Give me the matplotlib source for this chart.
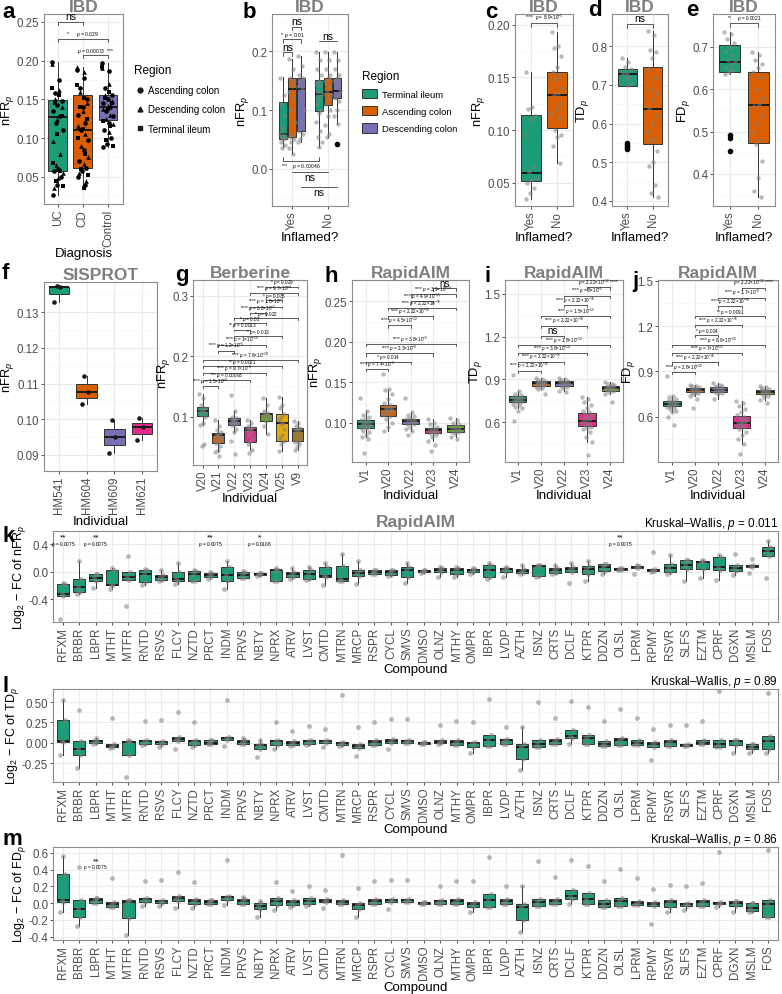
import numpy as np
import matplotlib
matplotlib.use('Agg')
import matplotlib.pyplot as plt
from matplotlib.lines import Line2D
from matplotlib.patches import Patch
from matplotlib.ticker import AutoMinorLocator

plt.rcParams['font.family'] = ['Liberation Sans', 'DejaVu Sans']
plt.rcParams['mathtext.fontset'] = 'custom'
plt.rcParams['mathtext.rm'] = 'Liberation Sans'
plt.rcParams['mathtext.it'] = 'Liberation Sans:italic'

# colours (Dark2)
GREEN, ORANGE, PURPLE, PINK, LIME, YELLOW, BROWN = ('#1B9E77', '#D95F02', '#7570B3', '#E7298A',
                                                   '#66A61E', '#E6AB02', '#A6761D')

# ---------------- panel a : IBD, nFRp by diagnosis ----------------
diag = ['UC', 'CD', 'Control']
# box stats: whislo, q1, med, q3, whishi
a_stats = [(0.027, 0.058, 0.127, 0.149, 0.198),
           (0.035, 0.061, 0.111, 0.155, 0.192),
           (0.089, 0.123, 0.140, 0.156, 0.197)]
regions_a = ['Ascending colon', 'Descending colon', 'Terminal ileum']
a_asc = [[0.198, 0.175, 0.158, 0.148, 0.143, 0.135, 0.128, 0.12, 0.11, 0.06, 0.058, 0.05, 0.04, 0.027],
         [0.188, 0.178, 0.165, 0.15, 0.14, 0.13, 0.12, 0.11, 0.098, 0.085, 0.07, 0.062, 0.058, 0.05, 0.04],
         [0.197, 0.186, 0.165, 0.156, 0.15, 0.145, 0.14, 0.135, 0.128, 0.12, 0.11, 0.1, 0.093, 0.089]]
a_desc = [[0.195, 0.162, 0.15, 0.14, 0.125, 0.096, 0.08, 0.065, 0.055, 0.048, 0.035],
          [0.192, 0.185, 0.16, 0.145, 0.135, 0.115, 0.105, 0.09, 0.075, 0.066, 0.055, 0.045],
          [0.19, 0.17, 0.155, 0.148, 0.142, 0.138, 0.13, 0.125, 0.118, 0.108]]
a_ti = [[0.165, 0.155, 0.145, 0.128, 0.105, 0.068, 0.057, 0.045, 0.038],
        [0.168, 0.152, 0.14, 0.125, 0.112, 0.1, 0.08, 0.06, 0.052, 0.035],
        [0.192, 0.16, 0.152, 0.145, 0.137, 0.122, 0.115, 0.098, 0.09]]

# ---------------- panel b : IBD, inflamed x region ----------------
inflamed = ['Yes', 'No']
regions_b = ['Terminal ileum', 'Ascending colon', 'Descending colon']
b_stats = [[(0.037, 0.051, 0.059, 0.114, 0.156), (0.025, 0.054, 0.136, 0.154, 0.186), (0.046, 0.064, 0.136, 0.154, 0.191)],
           [(0.037, 0.098, 0.127, 0.151, 0.198), (0.054, 0.108, 0.130, 0.154, 0.198), (0.076, 0.120, 0.132, 0.154, 0.198)]]
b_pts = [[[0.155, 0.125, 0.11, 0.09, 0.07, 0.06, 0.058, 0.055, 0.052, 0.05, 0.045, 0.04, 0.035],
          [0.186, 0.17, 0.155, 0.15, 0.14, 0.13, 0.12, 0.1, 0.08, 0.06, 0.055, 0.05, 0.045, 0.035, 0.025],
          [0.191, 0.175, 0.16, 0.155, 0.15, 0.14, 0.135, 0.12, 0.1, 0.08, 0.065, 0.06, 0.05, 0.046]],
         [[0.198, 0.185, 0.17, 0.16, 0.15, 0.145, 0.14, 0.13, 0.127, 0.12, 0.11, 0.1, 0.095, 0.08, 0.065, 0.055, 0.045, 0.037],
          [0.198, 0.185, 0.17, 0.16, 0.155, 0.15, 0.14, 0.13, 0.125, 0.12, 0.11, 0.1, 0.09, 0.075, 0.06, 0.054],
          [0.198, 0.185, 0.17, 0.16, 0.155, 0.15, 0.145, 0.14, 0.132, 0.128, 0.12, 0.115, 0.1, 0.09, 0.076]]]
b_outlier = 0.042  # No / Descending colon

# ---------------- panels c, d, e : IBD, inflamed yes/no ----------------
c_stats = [(0.035, 0.052, 0.0595, 0.114, 0.155), (0.069, 0.1015, 0.133, 0.155, 0.193)]
c_pts = [[0.155, 0.122, 0.12, 0.113, 0.11, 0.095, 0.065, 0.06, 0.055, 0.053, 0.05, 0.045, 0.04, 0.035],
         [0.193, 0.18, 0.178, 0.17, 0.16, 0.155, 0.152, 0.148, 0.14, 0.135, 0.133, 0.125, 0.12, 0.115,
          0.11, 0.1, 0.095, 0.093, 0.085, 0.069]]
d_stats = [(0.70, 0.697, 0.728, 0.741, 0.77), (0.41, 0.547, 0.637, 0.745, 0.839)]
d_pts = [[0.77, 0.76, 0.745, 0.74, 0.73, 0.728, 0.72, 0.715, 0.705, 0.7],
         [0.839, 0.83, 0.79, 0.785, 0.77, 0.74, 0.72, 0.69, 0.68, 0.66, 0.64, 0.62, 0.6, 0.58, 0.56,
          0.555, 0.53, 0.5, 0.49, 0.44, 0.42, 0.41]]
d_out = [[0.55, 0.545, 0.54, 0.535], []]
e_stats = [(0.636, 0.642, 0.665, 0.705, 0.736), (0.345, 0.472, 0.563, 0.642, 0.688)]
e_pts = [[0.736, 0.73, 0.72, 0.71, 0.7, 0.69, 0.68, 0.67, 0.665, 0.66, 0.65, 0.645, 0.64, 0.636],
         [0.688, 0.68, 0.67, 0.66, 0.65, 0.64, 0.63, 0.6, 0.58, 0.565, 0.56, 0.54, 0.52, 0.5, 0.48,
          0.47, 0.43, 0.39, 0.36, 0.345]]
e_out = [[0.492, 0.485, 0.455], []]

# ---------------- panel f : SISPROT ----------------
f_groups = ['HM541', 'HM604', 'HM609', 'HM621']
f_vals = [[0.1330, 0.1370, 0.1373], [0.1043, 0.1077, 0.1122],
          [0.0905, 0.0949, 0.0998], [0.0943, 0.0977, 0.1005]]

# ---------------- panel g : Berberine ----------------
g_groups = ['V20', 'V21', 'V22', 'V23', 'V24', 'V25', 'V9']
g_stats = [(0.0857, 0.1017, 0.109, 0.1165, 0.138), (0.042, 0.057, 0.069, 0.0735, 0.094),
           (0.075, 0.086, 0.093, 0.097, 0.11), (0.045, 0.0587, 0.078, 0.0823, 0.095),
           (0.072, 0.092, 0.104, 0.1067, 0.13), (0.043, 0.06, 0.089, 0.104, 0.133),
           (0.045, 0.06, 0.076, 0.081, 0.092)]
g_pts = [[0.138, 0.13, 0.12, 0.115, 0.112, 0.11, 0.108, 0.105, 0.1, 0.09, 0.0857, 0.055, 0.052],
         [0.094, 0.085, 0.078, 0.074, 0.072, 0.07, 0.068, 0.066, 0.063, 0.06, 0.057, 0.052, 0.045, 0.042, 0.035],
         [0.135, 0.11, 0.1, 0.098, 0.096, 0.094, 0.093, 0.092, 0.09, 0.088, 0.086, 0.08, 0.075, 0.06, 0.038],
         [0.095, 0.09, 0.085, 0.082, 0.08, 0.078, 0.075, 0.07, 0.065, 0.06, 0.055, 0.045, 0.04],
         [0.13, 0.12, 0.11, 0.106, 0.105, 0.104, 0.102, 0.1, 0.097, 0.092, 0.085, 0.072],
         [0.133, 0.12, 0.115, 0.105, 0.1, 0.095, 0.09, 0.088, 0.08, 0.07, 0.065, 0.06, 0.055, 0.043],
         [0.092, 0.09, 0.085, 0.082, 0.08, 0.078, 0.076, 0.07, 0.065, 0.06, 0.058, 0.055, 0.05, 0.045]]
g_brackets = [(5, 7, 0.315, '* $p$ = 0.029'), (4, 7, 0.304, '**** $p$ = 9.7×10$^{-4}$'),
              (5, 6, 0.293, '* $p$ = 0.035'), (4, 6, 0.282, '**** $p$ = 1.8×10$^{-7}$'),
              (4, 5, 0.271, '**** $p$ = 6.8×10$^{-7}$'), (3, 7, 0.263, '* $p$ = 0.022'),
              (3, 5, 0.255, '* $p$ = 0.02'), (3, 4, 0.244, '** $p$ = 0.0013'),
              (3, 6, 0.233, '* $p$ = 0.013'), (2, 5, 0.219, '**** $p$ = 1×10$^{-10}$'),
              (2, 3, 0.209, '**** $p$ = 1.2×10$^{-5}$'), (1, 7, 0.193, '**** $p$ = 7.8×10$^{-10}$'),
              (1, 6, 0.183, '** $p$ = 0.0021'), (1, 5, 0.172, '**** $p$ = 9.7×10$^{-5}$'),
              (1, 4, 0.161, '*** $p$ = 0.00093'), (1, 2, 0.150, '**** $p$ = 1.5×10$^{-4}$')]

# ---------------- panels h, i, j : RapidAIM individuals ----------------
r_groups = ['V1', 'V20', 'V22', 'V23', 'V24']
h_stats = [(0.0826, 0.0936, 0.099, 0.103, 0.114), (0.09, 0.108, 0.1165, 0.1223, 0.14),
           (0.09, 0.098, 0.102, 0.105, 0.113), (0.078, 0.0876, 0.0906, 0.094, 0.105),
           (0.083, 0.0884, 0.0926, 0.0967, 0.106)]
h_pts = [[0.131, 0.115, 0.11, 0.107, 0.105, 0.103, 0.102, 0.1, 0.099, 0.098, 0.097, 0.096, 0.095,
          0.094, 0.093, 0.09, 0.088, 0.085, 0.083, 0.08, 0.063],
         [0.16, 0.142, 0.14, 0.135, 0.13, 0.125, 0.122, 0.12, 0.118, 0.117, 0.116, 0.114, 0.112, 0.11,
          0.108, 0.105, 0.1, 0.095, 0.09],
         [0.131, 0.113, 0.11, 0.108, 0.106, 0.105, 0.104, 0.103, 0.102, 0.1, 0.099, 0.098, 0.095, 0.092, 0.09, 0.085],
         [0.105, 0.1, 0.098, 0.095, 0.093, 0.092, 0.091, 0.09, 0.089, 0.088, 0.087, 0.085, 0.082, 0.078, 0.072, 0.065],
         [0.106, 0.104, 0.1, 0.098, 0.096, 0.095, 0.093, 0.092, 0.091, 0.09, 0.089, 0.088, 0.086, 0.083, 0.08]]
h_brackets = [(4, 5, 0.266, 'ns'), (3, 5, 0.2586, '**** $p$ = 3.9×10$^{-10}$'),
              (3, 4, 0.2505, '**** $p$ = 4.9×10$^{-11}$'), (2, 5, 0.2418, '**** $p$ < 2.22×10$^{-16}$'),
              (2, 4, 0.2315, '**** $p$ < 2.22×10$^{-16}$'), (2, 3, 0.2203, '**** $p$ = 4.5×10$^{-12}$'),
              (1, 5, 0.197, '**** $p$ = 3.8×10$^{-5}$'), (1, 4, 0.1858, '**** $p$ = 2.3×10$^{-6}$'),
              (1, 3, 0.1755, '* $p$ = 0.014'), (1, 2, 0.1663, '**** $p$ = 7.4×10$^{-5}$')]

i_stats = [(0.70, 0.74, 0.758, 0.782, 0.82), (0.835, 0.857, 0.875, 0.89, 0.91),
           (0.82, 0.852, 0.875, 0.89, 0.91), (0.46, 0.576, 0.611, 0.665, 0.775),
           (0.80, 0.822, 0.838, 0.857, 0.88)]
i_pts = [[0.93, 0.82, 0.8, 0.79, 0.78, 0.775, 0.77, 0.765, 0.76, 0.755, 0.75, 0.745, 0.74, 0.73, 0.72, 0.71, 0.7, 0.68, 0.61],
         [0.91, 0.9, 0.895, 0.89, 0.885, 0.88, 0.878, 0.875, 0.872, 0.87, 0.865, 0.86, 0.855, 0.85, 0.84, 0.835, 0.8],
         [0.91, 0.9, 0.895, 0.89, 0.885, 0.88, 0.875, 0.87, 0.865, 0.86, 0.855, 0.85, 0.84, 0.82, 0.81],
         [0.775, 0.76, 0.74, 0.72, 0.7, 0.68, 0.67, 0.66, 0.65, 0.64, 0.63, 0.62, 0.61, 0.6, 0.59, 0.58,
          0.57, 0.56, 0.55, 0.53, 0.5, 0.46, 0.37],
         [0.88, 0.87, 0.865, 0.86, 0.855, 0.85, 0.845, 0.84, 0.835, 0.83, 0.825, 0.82, 0.81, 0.8, 0.74]]
i_brackets = [(4, 5, 1.545, '$p$ < 2.22×10$^{-16}$ ****'), (3, 5, 1.488, '**** $p$ = 8×10$^{-5}$'),
              (3, 4, 1.422, '**** $p$ < 2.22×10$^{-16}$'), (2, 5, 1.343, '**** $p$ = 1.5×10$^{-15}$'),
              (2, 4, 1.277, '**** $p$ < 2.22×10$^{-16}$'), (2, 3, 1.207, 'ns'),
              (1, 5, 1.142, '**** $p$ = 1.8×10$^{-15}$'), (1, 4, 1.086, '**** $p$ = 3.8×10$^{-14}$'),
              (1, 3, 1.025, '**** $p$ < 2.22×10$^{-16}$'), (1, 2, 0.962, '**** $p$ < 2.22×10$^{-16}$')]

j_stats = [(0.63, 0.668, 0.684, 0.701, 0.74), (0.74, 0.761, 0.775, 0.787, 0.81),
           (0.72, 0.761, 0.78, 0.798, 0.82), (0.42, 0.523, 0.556, 0.607, 0.705),
           (0.71, 0.75, 0.765, 0.776, 0.80)]
j_pts = [[0.87, 0.74, 0.73, 0.72, 0.71, 0.705, 0.7, 0.695, 0.69, 0.685, 0.68, 0.675, 0.67, 0.665, 0.66, 0.65, 0.64, 0.63, 0.6, 0.545],
         [0.81, 0.805, 0.8, 0.795, 0.79, 0.785, 0.78, 0.775, 0.77, 0.765, 0.76, 0.755, 0.75, 0.74, 0.72, 0.66],
         [0.82, 0.81, 0.805, 0.8, 0.795, 0.79, 0.785, 0.78, 0.775, 0.77, 0.765, 0.76, 0.75, 0.72],
         [0.705, 0.69, 0.67, 0.65, 0.63, 0.61, 0.6, 0.59, 0.58, 0.57, 0.56, 0.555, 0.55, 0.54, 0.53,
          0.52, 0.5, 0.48, 0.45, 0.42, 0.354],
         [0.8, 0.795, 0.79, 0.785, 0.78, 0.775, 0.77, 0.765, 0.76, 0.755, 0.75, 0.74, 0.73, 0.71, 0.69]]
j_brackets = [(4, 5, 1.455, '$p$ < 2.22×10$^{-16}$ ****'), (3, 5, 1.387, '**** $p$ = 1.7×10$^{-9}$'),
              (3, 4, 1.332, '**** $p$ < 2.22×10$^{-16}$'), (2, 5, 1.266, '** $p$ = 0.0091'),
              (2, 4, 1.207, '**** $p$ < 2.22×10$^{-16}$'), (2, 3, 1.139, '* $p$ = 0.024'),
              (1, 5, 1.075, '**** $p$ = 8.9×10$^{-16}$'), (1, 4, 1.02, '**** $p$ = 7×10$^{-15}$'),
              (1, 3, 0.959, '**** $p$ < 2.22×10$^{-16}$'), (1, 2, 0.897, '**** $p$ = 2.8×10$^{-16}$')]

# ---------------- panels k, l, m : RapidAIM compounds ----------------
compounds = ['RFXM', 'BRBR', 'LBPR', 'MTHT', 'MTFR', 'RNTD', 'RSVS', 'FLCY', 'NZTD', 'PRCT', 'INDM',
             'PRVS', 'NBTY', 'NPRX', 'ATRV', 'LVST', 'CMTD', 'MTRN', 'MRCP', 'RSPR', 'CYCL', 'SMVS',
             'DMSO', 'OLNZ', 'MTHY', 'OMPR', 'IBPR', 'LVDP', 'AZTH', 'ISNZ', 'CRTS', 'DCLF', 'KTPR',
             'DDZN', 'OLSL', 'LPRM', 'RPMY', 'RSVR', 'SLFS', 'EZTM', 'CPRF', 'DGXN', 'MSLM', 'FOS']
k_vals = [[-0.68, -0.36, -0.33, -0.185, -0.17], [-0.32, -0.30, -0.22, -0.10, 0.16], [-0.24, -0.13, -0.09, -0.04, -0.035],
          [-0.25, -0.20, -0.19, 0.03, 0.05], [-0.50, -0.12, -0.07, 0.0, 0.23], [-0.19, -0.15, -0.04, 0.03, 0.035],
          [-0.14, -0.12, -0.08, -0.05, 0.03], [-0.18, -0.14, -0.10, 0.0, 0.12], [-0.14, -0.135, -0.04, 0.015, 0.03],
          [-0.11, -0.08, -0.05, -0.02, 0.0], [-0.245, -0.14, -0.05, 0.07, 0.15], [-0.09, -0.085, -0.05, 0.0, 0.005],
          [-0.06, -0.05, -0.04, -0.02, -0.015], [-0.14, -0.13, 0.02, 0.03, 0.05], [-0.1, -0.07, -0.03, 0.0, 0.05],
          [-0.12, -0.10, -0.035, 0.03, 0.07], [-0.20, -0.08, -0.06, 0.07, 0.13], [-0.14, -0.13, -0.11, 0.08, 0.25],
          [-0.18, -0.06, -0.02, 0.03, 0.15], [-0.04, -0.035, 0.0, 0.02, 0.03], [-0.06, -0.05, -0.01, 0.02, 0.03],
          [-0.16, -0.08, 0.02, 0.07, 0.13], [-0.015, -0.01, 0.005, 0.02, 0.025], [-0.08, -0.01, 0.025, 0.05, 0.07],
          [-0.08, -0.03, 0.03, 0.06, 0.07], [-0.03, -0.01, 0.02, 0.04, 0.05], [-0.10, -0.07, 0.02, 0.09, 0.13],
          [-0.07, -0.01, 0.035, 0.06, 0.07], [-0.04, -0.025, 0.015, 0.045, 0.10], [-0.07, -0.06, 0.085, 0.09, 0.095],
          [-0.04, -0.025, 0.02, 0.055, 0.09], [-0.17, -0.01, 0.045, 0.075, 0.13], [-0.13, -0.04, 0.035, 0.085, 0.15],
          [-0.03, 0.005, 0.075, 0.11, 0.115], [0.025, 0.03, 0.045, 0.055, 0.06], [-0.03, 0.055, 0.075, 0.085, 0.09],
          [0.0, 0.005, 0.025, 0.04, 0.285], [-0.03, -0.01, 0.06, 0.11, 0.24], [-0.13, 0.035, 0.09, 0.17, 0.175],
          [-0.09, 0.035, 0.14, 0.16, 0.165], [-0.12, 0.025, 0.07, 0.22, 0.24], [-0.05, 0.005, 0.055, 0.10, 0.25],
          [-0.02, 0.065, 0.08, 0.09, 0.18], [-0.09, 0.23, 0.30, 0.36, 0.45]]
l_vals = [[-0.145, 0.007, 0.02, 0.275, 0.53], [-0.305, -0.155, -0.08, 0.02, 0.40], [-0.01, -0.005, 0.02, 0.04, 0.06],
          [-0.06, -0.055, -0.04, -0.02, 0.31], [-0.42, -0.15, 0.01, 0.02, 0.04], [-0.03, -0.01, 0.02, 0.04, 0.27],
          [-0.05, -0.015, 0.01, 0.025, 0.28], [-0.08, 0.02, 0.05, 0.07, 0.38], [-0.05, -0.03, 0.02, 0.04, 0.25],
          [-0.02, -0.02, 0.0, 0.03, 0.035], [-0.04, 0.04, 0.06, 0.07, 0.52], [-0.02, -0.02, 0.015, 0.03, 0.06],
          [-0.17, -0.07, -0.03, -0.01, 0.03], [-0.07, -0.03, 0.02, 0.035, 0.25], [-0.04, -0.03, 0.0, 0.025, 0.14],
          [-0.03, -0.02, 0.02, 0.04, 0.21], [-0.05, 0.0, 0.02, 0.03, 0.17], [-0.035, -0.03, -0.005, 0.015, 0.59],
          [-0.16, -0.065, -0.04, -0.02, 0.20], [-0.03, -0.03, 0.01, 0.04, 0.26], [-0.07, 0.0, 0.025, 0.045, 0.29],
          [-0.005, 0.0, 0.025, 0.04, 0.29], [-0.02, -0.02, -0.005, 0.01, 0.01], [-0.01, 0.0, 0.015, 0.03, 0.22],
          [-0.03, -0.03, 0.015, 0.04, 0.27], [-0.12, -0.05, 0.0, 0.015, 0.26], [-0.04, -0.04, 0.03, 0.10, 0.54],
          [-0.01, -0.01, 0.03, 0.05, 0.20], [-0.33, -0.20, -0.05, -0.01, 0.20], [-0.05, -0.05, -0.01, 0.04, 0.50],
          [-0.01, -0.01, 0.02, 0.045, 0.31], [-0.02, 0.055, 0.08, 0.155, 0.51], [-0.01, -0.01, 0.06, 0.10, 0.44],
          [-0.04, -0.04, -0.01, 0.025, 0.27], [-0.03, -0.03, 0.03, 0.06, 0.41], [-0.03, -0.03, 0.0, 0.03, 0.30],
          [-0.21, -0.05, -0.02, 0.01, 0.17], [-0.04, -0.04, 0.01, 0.04, 0.22], [-0.04, -0.04, -0.025, -0.01, 0.22],
          [-0.02, -0.02, 0.0, 0.03, 0.27], [-0.05, -0.05, -0.01, 0.03, 0.63], [-0.12, -0.03, 0.02, 0.04, 0.04],
          [-0.12, -0.08, -0.05, -0.01, -0.01], [-0.13, -0.07, 0.02, 0.09, 0.61]]
m_vals = [[-0.10, 0.016, 0.04, 0.353, 0.56], [-0.27, -0.17, -0.075, 0.04, 0.43], [0.0, 0.005, 0.035, 0.06, 0.065],
          [-0.045, -0.045, -0.005, 0.015, 0.30], [-0.38, -0.18, 0.015, 0.035, 0.04], [-0.03, 0.015, 0.045, 0.065, 0.26],
          [-0.03, 0.0, 0.025, 0.04, 0.28], [-0.06, 0.03, 0.06, 0.09, 0.37], [-0.06, -0.005, 0.025, 0.055, 0.25],
          [-0.015, -0.015, 0.01, 0.035, 0.04], [-0.02, 0.035, 0.075, 0.09, 0.52], [-0.005, -0.005, 0.025, 0.055, 0.07],
          [-0.16, -0.065, -0.035, 0.0, 0.03], [-0.08, -0.025, 0.025, 0.06, 0.25], [-0.05, -0.025, 0.01, 0.035, 0.15],
          [-0.03, -0.005, 0.025, 0.06, 0.20], [-0.06, 0.015, 0.03, 0.045, 0.16], [-0.01, -0.01, 0.015, 0.035, 0.57],
          [-0.16, -0.065, -0.02, 0.0, 0.18], [-0.01, -0.01, 0.025, 0.055, 0.26], [-0.07, 0.01, 0.035, 0.055, 0.28],
          [0.01, 0.01, 0.035, 0.055, 0.28], [-0.01, -0.01, 0.005, 0.015, 0.015], [-0.005, -0.005, 0.025, 0.04, 0.21],
          [-0.015, -0.015, 0.02, 0.045, 0.27], [-0.11, -0.05, -0.005, 0.015, 0.26], [-0.05, -0.05, 0.035, 0.11, 0.55],
          [-0.01, -0.01, 0.025, 0.055, 0.20], [-0.34, -0.2, -0.05, -0.005, 0.2], [-0.035, -0.035, 0.015, 0.045, 0.50],
          [-0.01, -0.01, 0.025, 0.055, 0.31], [-0.01, 0.045, 0.09, 0.16, 0.51], [-0.015, -0.015, 0.055, 0.12, 0.44],
          [-0.05, -0.05, -0.005, 0.035, 0.27], [-0.035, -0.035, 0.025, 0.06, 0.41], [-0.025, -0.025, 0.005, 0.03, 0.30],
          [-0.25, -0.04, -0.005, 0.015, 0.17], [-0.10, -0.05, 0.015, 0.04, 0.22], [-0.08, -0.035, -0.015, 0.0, 0.20],
          [-0.035, -0.035, 0.01, 0.035, 0.24], [-0.05, -0.015, 0.0, 0.015, 0.61], [-0.11, -0.04, 0.005, 0.03, 0.03],
          [-0.11, -0.09, -0.06, 0.0, 0.0], [-0.17, -0.16, -0.005, 0.04, 0.64]]
k_sig = [('RFXM', '**', '0.0075'), ('LBPR', '**', '0.0075'), ('PRCT', '**', '0.0075'),
         ('NBTY', '*', '0.0108'), ('OLSL', '**', '0.0075')]
m_sig = [('LBPR', '**', '0.0075')]
kw_p = ['0.011', '0.89', '0.86']

# ================= drawing =================
W, H = 782, 995
fig = plt.figure(figsize=(W / 100, H / 100), dpi=100)
EDGE = '#333333'
TITLE_C = '#7F7F7F'


def add_ax(x0, y0, x1, y1):
    return fig.add_axes([x0 / W, 1 - y1 / H, (x1 - x0) / W, (y1 - y0) / H])


def style(ax, ylim, yticks, ylabels, xlim, xlabels, xlabel, ylabel, title=None):
    ax.set_ylim(*ylim)
    ax.set_xlim(*xlim)
    ax.set_yticks(yticks)
    ax.set_yticklabels(ylabels)
    ax.set_xticks(np.arange(1, len(xlabels) + 1))
    ax.set_xticklabels(xlabels, rotation=90)
    ax.yaxis.set_minor_locator(AutoMinorLocator(2))
    ax.tick_params(which='major', colors='#4D4D4D', labelsize=8.3, length=2.5, width=0.6, pad=1.0)
    ax.tick_params(which='major', color='#333333')
    ax.tick_params(which='minor', length=0)
    ax.grid(True, which='major', color='#EBEBEB', lw=0.8)
    ax.grid(True, which='minor', axis='y', color='#F5F5F5', lw=0.5)
    ax.set_axisbelow(True)
    for s in ax.spines.values():
        s.set_color('#8C8C8C')
        s.set_linewidth(0.8)
    ax.set_xlabel(xlabel, fontsize=9.5, labelpad=1)
    ax.set_ylabel(ylabel, fontsize=9.3, labelpad=0.3)
    if title:
        ax.set_title(title, fontsize=12.5, fontweight='bold', color=TITLE_C, pad=1.6)


def boxes(ax, pos, stats, colors, width):
    st = [dict(whislo=s[0], q1=s[1], med=s[2], q3=s[3], whishi=s[4], fliers=[]) for s in stats]
    bp = ax.bxp(st, positions=pos, widths=width, patch_artist=True, showcaps=False, showfliers=False,
                boxprops=dict(edgecolor=EDGE, linewidth=0.7),
                medianprops=dict(color='#1A1A1A', linewidth=1.4),
                whiskerprops=dict(color=EDGE, linewidth=0.7))
    for p, c in zip(bp['boxes'], colors):
        p.set_facecolor(c)


def offsets(n, w):
    return ((np.arange(n) * 0.618034) % 1 - 0.5) * w


def jitter(ax, x, vals, w, **kw):
    vals = np.asarray(vals, dtype=float)
    ax.scatter(x + offsets(len(vals), w), vals, zorder=4, linewidths=0, **kw)


GRAY_PT = dict(s=10, color='#808080', alpha=0.55)


def bracket(ax, x1, x2, y, label, tick, fs=3.6, up=True):
    d = tick if up else -tick
    ax.plot([x1, x1, x2, x2], [y - d, y, y, y - d], color='#1A1A1A', lw=0.5, zorder=5)
    ax.text((x1 + x2) / 2, y + d * 0.15, label, ha='center', va='bottom' if up else 'top',
            fontsize=fs, zorder=5)


def letter(x, y, s):
    fig.text(x / W, 1 - y / H, s, fontsize=16, fontweight='bold', va='center', ha='left')


# ---- a ----
ax = add_ax(44, 15, 123, 205)
boxes(ax, [1, 2, 3], a_stats, [GREEN, ORANGE, PURPLE], 0.75)
for gi in range(3):
    for vals, mk in zip([a_asc[gi], a_desc[gi], a_ti[gi]], ['o', '^', 's']):
        jitter(ax, gi + 1, vals, 0.45, s=11, color='black', marker=mk)
bracket(ax, 1, 2, 0.25, 'ns', 0.004, fs=7.5)
bracket(ax, 1, 3, 0.228, '*      $p$ = 0.029', 0.004)
bracket(ax, 2, 3, 0.207, '$p$ = 0.00073  ***', 0.004)
style(ax, (0.015, 0.26), [0.05, 0.10, 0.15, 0.20, 0.25], ['0.05', '0.10', '0.15', '0.20', '0.25'],
      (0.45, 3.6), diag, 'Diagnosis', 'nFR$_p$', 'IBD')
ha = [Line2D([], [], marker=m, color='#1A1A1A', ls='none', markersize=3.5) for m in ['o', '^', 's']]
fig.legend(ha, regions_a, title='Region', loc='upper left', bbox_to_anchor=(127 / W, 1 - 58 / H),
           frameon=False, fontsize=7, title_fontsize=8.5, handletextpad=0.15, labelspacing=0.95,
           alignment='left', handlelength=1.3, borderpad=0.2)

# ---- b ----
ax = add_ax(272, 15, 348, 207)
dodge = [-0.25, 0.0, 0.25]
for gi in range(2):
    boxes(ax, [gi + 1 + d for d in dodge], b_stats[gi], [GREEN, ORANGE, PURPLE], 0.22)
    for ri in range(3):
        jitter(ax, gi + 1 + dodge[ri], b_pts[gi][ri], 0.18, **GRAY_PT)
ax.scatter([2.25], [b_outlier], s=9, color='black', zorder=4)
bracket(ax, 0.75, 1.0, 0.198, 'ns', 0.006, fs=7.5)
bracket(ax, 0.75, 1.25, 0.22, '*  $p$ = 0.01', 0.006)
bracket(ax, 1.0, 1.25, 0.241, 'ns', 0.006, fs=7.5)
bracket(ax, 1.75, 2.25, 0.217, 'ns', 0.0, fs=7.5)
bracket(ax, 0.75, 1.75, 0.0136, '***    $p$ = 0.00046', 0.006, up=False)
bracket(ax, 1.0, 2.0, -0.005, 'ns', 0.0, fs=7.5, up=False)
bracket(ax, 1.25, 2.25, -0.03, 'ns', 0.0, fs=7.5, up=False)
style(ax, (-0.063, 0.263), [0.0, 0.1, 0.2], ['0.0', '0.1', '0.2'], (0.45, 2.55), inflamed,
      'Inflamed?', 'nFR$_p$', 'IBD')
hb = [Patch(facecolor=c, edgecolor=EDGE, linewidth=0.7) for c in [GREEN, ORANGE, PURPLE]]
fig.legend(hb, regions_b, title='Region', loc='upper left', bbox_to_anchor=(355 / W, 1 - 64 / H),
           frameon=False, fontsize=6.8, title_fontsize=8.5, handletextpad=0.6, labelspacing=0.75,
           alignment='left', handlelength=1.6, handleheight=1.2, borderpad=0.2)

# ---- c, d, e ----
for (x0, x1, stats, pts, outs, ylim, yt, yl, lab, br_y, br_lab, br_fs) in [
        (515, 573, c_stats, c_pts, [[], []], (0.028, 0.21), [0.05, 0.10, 0.15, 0.20],
         ['0.05', '0.10', '0.15', '0.20'], 'nFR$_p$', 0.2015, '****  $p$ = 8.9×10$^{-5}$', 3.4),
        (612, 668, d_stats, d_pts, d_out, (0.387, 0.883), [0.4, 0.5, 0.6, 0.7, 0.8],
         ['0.4', '0.5', '0.6', '0.7', '0.8'], 'TD$_p$', 0.857, 'ns', 7.5),
        (713, 775, e_stats, e_pts, e_out, (0.324, 0.778), [0.4, 0.5, 0.6, 0.7],
         ['0.4', '0.5', '0.6', '0.7'], 'FD$_p$', 0.757, '**     $p$ = 0.0021', 3.4)]:
    ax = add_ax(x0, 15, x1, 207)
    boxes(ax, [1, 2], stats, [GREEN, ORANGE], 0.75)
    for gi in range(2):
        jitter(ax, gi + 1, pts[gi], 0.4, **GRAY_PT)
        if outs[gi]:
            ax.scatter([gi + 1] * len(outs[gi]), outs[gi], s=9, color='black', zorder=4)
    rng = ylim[1] - ylim[0]
    bracket(ax, 1, 2, br_y, br_lab, rng * 0.02, fs=br_fs)
    style(ax, ylim, yt, yl, (0.4, 2.6), inflamed, 'Inflamed?', lab, 'IBD')

# ---- f ----
ax = add_ax(44, 283, 157, 472)
bp = ax.boxplot(f_vals, positions=[1, 2, 3, 4], widths=0.75, patch_artist=True, showcaps=False,
                showfliers=False, boxprops=dict(edgecolor=EDGE, linewidth=0.7),
                medianprops=dict(color='#1A1A1A', linewidth=1.4), whiskerprops=dict(color=EDGE, linewidth=0.7))
for p, c in zip(bp['boxes'], [GREEN, ORANGE, PURPLE, PINK]):
    p.set_facecolor(c)
for gi, vals in enumerate(f_vals):
    jitter(ax, gi + 1, vals, 0.35, s=11, color='#1A1A1A')
style(ax, (0.0855, 0.1385), [0.09, 0.10, 0.11, 0.12, 0.13], ['0.09', '0.10', '0.11', '0.12', '0.13'],
      (0.45, 4.55), f_groups, 'Individual', 'nFR$_p$', 'SISPROT')

# ---- g ----
ax = add_ax(193, 281, 307, 466)
gcols = [GREEN, ORANGE, PURPLE, PINK, LIME, YELLOW, BROWN]
boxes(ax, range(1, 8), g_stats, gcols, 0.75)
for gi in range(7):
    jitter(ax, gi + 1, g_pts[gi], 0.4, **GRAY_PT)
for (i1, i2, y, lab) in g_brackets:
    bracket(ax, i1, i2, y, lab, 0.003, fs=3.3)
style(ax, (0.02, 0.326), [0.1, 0.2, 0.3], ['0.1', '0.2', '0.3'], (0.4, 7.6), g_groups,
      'Individual', 'nFR$_p$', 'Berberine')

# ---- h, i, j ----
rcols = [GREEN, ORANGE, PURPLE, PINK, LIME]
for (x0, x1, stats, pts, brs, ylim, yt, yl, lab, xl) in [
        (352, 469, h_stats, h_pts, h_brackets, (0.0515, 0.2765), [0.10, 0.15, 0.20, 0.25],
         ['0.10', '0.15', '0.20', '0.25'], 'nFR$_p$', (0.4, 5.6)),
        (505, 623, i_stats, i_pts, i_brackets, (0.322, 1.597), [0.6, 0.9, 1.2, 1.5],
         ['0.6', '0.9', '1.2', '1.5'], 'TD$_p$', (0.45, 5.55)),
        (658, 778, j_stats, j_pts, j_brackets, (0.30, 1.505), [0.6, 0.9, 1.2, 1.5],
         ['0.6', '0.9', '1.2', '1.5'], 'FD$_p$', (0.4, 5.56))]:
    ax = add_ax(x0, 281, x1, 463)
    boxes(ax, range(1, 6), stats, rcols, 0.75)
    for gi in range(5):
        jitter(ax, gi + 1, pts[gi], 0.45, **GRAY_PT)
    rng = ylim[1] - ylim[0]
    for (i1, i2, y, lbl) in brs:
        bracket(ax, i1, i2, y, lbl, rng * 0.012, fs=(7 if lbl == 'ns' else 3.3))
    style(ax, ylim, yt, yl, xl, r_groups, 'Individual', lab, 'RapidAIM')

# ---- k, l, m ----
for (y0, y1, vals, ylim, yt, yl, lab, pval, sig, title, star_y, p_y) in [
        (532, 623, k_vals, (-0.73, 0.59), [-0.4, 0.0, 0.4], ['-0.4', '0.0', '0.4'], 'nFR', kw_p[0], k_sig,
         'RapidAIM', 0.46, 0.35),
        (690, 783, l_vals, (-0.48, 0.66), [-0.25, 0.0, 0.25, 0.5], ['-0.25', '0.00', '0.25', '0.50'], 'TD',
         kw_p[1], [], None, 0, 0),
        (848, 941, m_vals, (-0.44, 0.67), [-0.4, -0.2, 0.0, 0.2, 0.4, 0.6],
         ['-0.4', '-0.2', '0.0', '0.2', '0.4', '0.6'], 'FD', kw_p[2], m_sig, None, 0.46, 0.38)]:
    ax = add_ax(53, y0, 778, y1)
    n = len(compounds)
    bp = ax.boxplot(vals, positions=range(1, n + 1), widths=0.75, patch_artist=True, showcaps=False,
                    showfliers=False, boxprops=dict(edgecolor=EDGE, linewidth=0.7, facecolor=GREEN),
                    medianprops=dict(color='#1A1A1A', linewidth=1.4),
                    whiskerprops=dict(color=EDGE, linewidth=0.7))
    for ci, v in enumerate(vals):
        jitter(ax, ci + 1, v, 0.3, s=12, color='#808080', alpha=0.55)
    for (cname, stars, p) in sig:
        ci = compounds.index(cname) + 1
        ax.text(ci, star_y, stars, ha='center', va='bottom', fontsize=6)
        ax.text(ci, p_y, '$p$ = ' + p, ha='center', va='bottom', fontsize=3.4)
    style(ax, ylim, yt, yl, (0.4, n + 0.6), compounds, 'Compound',
          'Log$_2$ − FC of ' + lab + '$_p$')
    ax.yaxis.label.set_fontsize(9)
    if title:
        ax.set_title(title, fontsize=12.5, fontweight='bold', color=TITLE_C, pad=1.5)
    ax.set_title('Kruskal–Wallis, $p$ = ' + pval, loc='right', fontsize=8.5, pad=3)

# panel letters
for (x, y, s) in [(2, 12, 'a'), (243, 12, 'b'), (485, 12, 'c'), (588, 10, 'd'), (686, 10, 'e'),
                  (2, 274, 'f'), (175, 276, 'g'), (325, 276, 'h'), (484, 276, 'i'), (632, 282, 'j'),
                  (2, 537, 'k'), (2, 687, 'l'), (2, 840, 'm')]:
    letter(x, y, s)

fig.savefig('out.png', dpi=100)
